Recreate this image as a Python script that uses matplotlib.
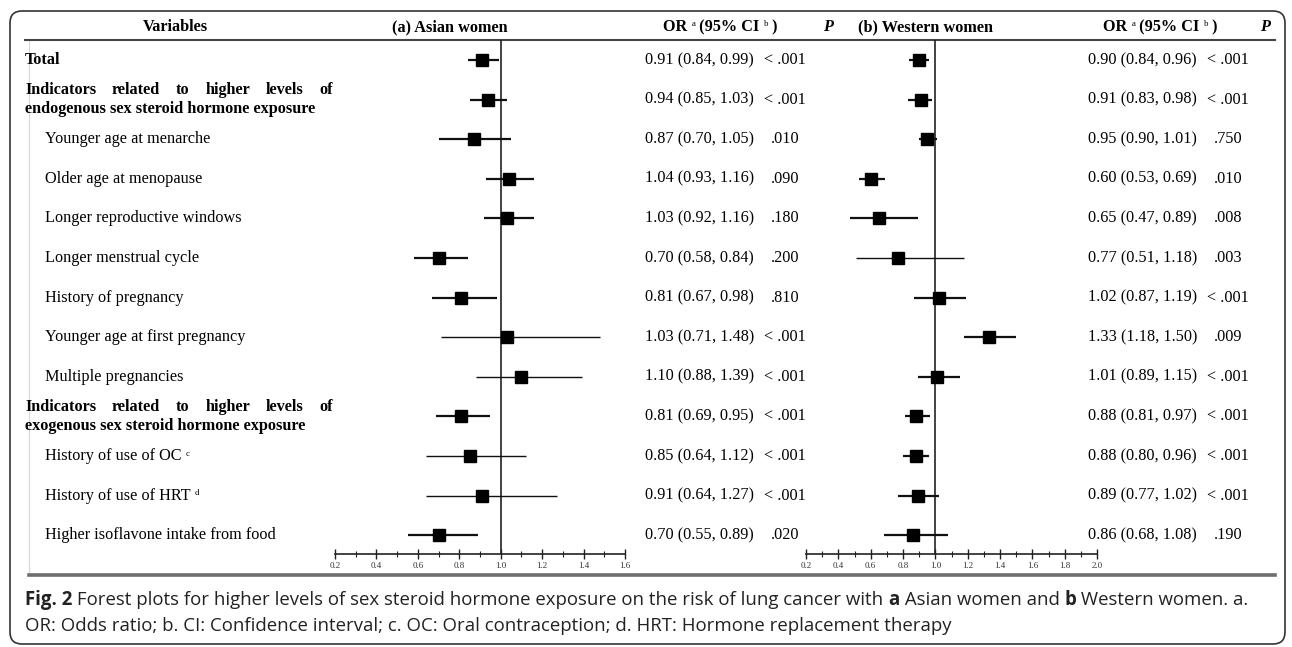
import matplotlib
matplotlib.use("Agg")
import matplotlib.pyplot as plt
from matplotlib.patches import FancyBboxPatch
from matplotlib.ticker import MultipleLocator

plt.rcParams['font.family'] = ['Liberation Serif', 'DejaVu Serif']
plt.rcParams['mathtext.fontset'] = 'custom'
plt.rcParams['mathtext.rm'] = 'Liberation Serif'

# rows of the table
labels = ["Total",
          "Indicators related to higher levels of\nendogenous sex steroid hormone exposure",
          "Younger age at menarche",
          "Older age at menopause",
          "Longer reproductive windows",
          "Longer menstrual cycle",
          "History of pregnancy",
          "Younger age at first pregnancy",
          "Multiple pregnancies",
          "Indicators related to higher levels of\nexogenous sex steroid hormone exposure",
          "History of use of OC",
          "History of use of HRT",
          "Higher isoflavone intake from food"]
label_sup = {10: "c", 11: "d"}
bold_rows = [0, 1, 9]

# (a) Asian women
asian_or = [0.91, 0.94, 0.87, 1.04, 1.03, 0.70, 0.81, 1.03, 1.10, 0.81, 0.85, 0.91, 0.70]
asian_lo = [0.84, 0.85, 0.70, 0.93, 0.92, 0.58, 0.67, 0.71, 0.88, 0.69, 0.64, 0.64, 0.55]
asian_hi = [0.99, 1.03, 1.05, 1.16, 1.16, 0.84, 0.98, 1.48, 1.39, 0.95, 1.12, 1.27, 0.89]
asian_p = ["< .001", "< .001", ".010", ".090", ".180", ".200", ".810",
           "< .001", "< .001", "< .001", "< .001", "< .001", ".020"]

# (b) Western women
west_or = [0.90, 0.91, 0.95, 0.60, 0.65, 0.77, 1.02, 1.33, 1.01, 0.88, 0.88, 0.89, 0.86]
west_lo = [0.84, 0.83, 0.90, 0.53, 0.47, 0.51, 0.87, 1.18, 0.89, 0.81, 0.80, 0.77, 0.68]
west_hi = [0.96, 0.98, 1.01, 0.69, 0.89, 1.18, 1.19, 1.50, 1.15, 0.97, 0.96, 1.02, 1.08]
west_p = ["< .001", "< .001", ".750", ".010", ".008", ".003", "< .001",
          ".009", "< .001", "< .001", "< .001", "< .001", ".190"]

W, H = 1292, 647
fig = plt.figure(figsize=(W / 100, H / 100), dpi=100)
bg = fig.add_axes([0, 0, 1, 1])
bg.set_xlim(0, W)
bg.set_ylim(H, 0)
bg.axis('off')
renderer = fig.canvas.get_renderer()

FS = 11.7
ROW0, STEP = 60, 39.6


def row_y(i):
    return ROW0 + STEP * i


def text_width(t):
    return t.get_window_extent(renderer).width


def draw_runs(x, y, runs, **kw):
    # draw pieces of text one after another on the same line
    for s, props in runs:
        opts = dict(kw)
        opts.update(props)
        dy = opts.pop('dy', 0)
        t = bg.text(x, y + dy, s, va='center', ha='left', **opts)
        x += text_width(t)
    return x


def draw_justified(x0, x1, y, line, **kw):
    words = line.split()
    ts = [bg.text(0, y, w, va='center', ha='left', **kw) for w in words]
    widths = [text_width(t) for t in ts]
    gap = (x1 - x0 - sum(widths)) / (len(words) - 1)
    x = x0
    for t, w in zip(ts, widths):
        t.set_x(x)
        x += w + gap


sup = {'fontsize': FS * 0.55, 'fontweight': 'normal', 'dy': -2.5}

# frame
bg.add_patch(FancyBboxPatch((10, 11), 1275, 633, boxstyle="round,pad=0,rounding_size=12",
                            fc='none', ec='#333333', lw=1.2))
bg.plot([29, 29], [40, 575], color='#d8d8d8', lw=0.8)
bg.plot([25, 1275], [40, 40], color='#444444', lw=1.5)
bg.plot([29, 1275], [575, 575], color='#6e6e6e', lw=2.6)

# header
hy = 27
bg.text(175, hy, "Variables", ha='center', va='center', fontsize=FS, fontweight='bold')
bg.text(450, hy, "(a) Asian women", ha='center', va='center', fontsize=FS, fontweight='bold')
bg.text(925, hy, "(b) Western women", ha='center', va='center', fontsize=FS, fontweight='bold')
for x0, px in [(663, 828), (1103, 1265)]:
    draw_runs(x0, hy, [("OR ", {}), ("a", sup), (" (95% CI ", {}), ("b", sup), (" )", {})],
              fontsize=FS, fontweight='bold')
    bg.text(px, hy, "P", ha='center', va='center', fontsize=FS, fontweight='bold', style='italic')

# row labels and numbers
for i, lab in enumerate(labels):
    y = row_y(i)
    if i in bold_rows:
        lines = lab.split("\n")
        if len(lines) == 2:
            draw_justified(25, 333, y - 9.5, lines[0], fontsize=FS, fontweight='bold')
            bg.text(25, y + 9.5, lines[1], va='center', fontsize=FS, fontweight='bold')
        else:
            bg.text(25, y, lab, va='center', fontsize=FS, fontweight='bold')
    elif i in label_sup:
        draw_runs(45, y, [(lab + " ", {}), (label_sup[i], sup)], fontsize=FS)
    else:
        bg.text(45, y, lab, va='center', fontsize=FS)
    bg.text(645, y, f"{asian_or[i]:.2f} ({asian_lo[i]:.2f}, {asian_hi[i]:.2f})", va='center', fontsize=FS)
    bg.text(785, y, asian_p[i], va='center', ha='center', fontsize=FS)
    bg.text(1088, y, f"{west_or[i]:.2f} ({west_lo[i]:.2f}, {west_hi[i]:.2f})", va='center', fontsize=FS)
    bg.text(1228, y, west_p[i], va='center', ha='center', fontsize=FS)


# forest panels
def forest(x_left, x_right, xmax, ors, los, his):
    top, bottom = 40, 554
    ax = fig.add_axes([x_left / W, 1 - bottom / H, (x_right - x_left) / W, (bottom - top) / H])
    ax.set_facecolor('none')
    n = len(ors)
    ax.set_xlim(0.2, xmax)
    ax.set_ylim((bottom - ROW0) / STEP, (top - ROW0) / STEP)
    for s in ['top', 'left', 'right']:
        ax.spines[s].set_visible(False)
    ax.spines['bottom'].set_color('#222222')
    ax.spines['bottom'].set_linewidth(1.2)
    ax.axvline(1.0, color='#222222', lw=1.2)
    for i in range(n):
        lw = 1.6 if his[i] - los[i] < 0.45 else 1.0
        ax.plot([los[i], his[i]], [i, i], color='#111111', lw=lw, solid_capstyle='butt')
        ax.plot(ors[i], i, marker='s', ms=9, color='black', clip_on=False)
    ax.xaxis.set_minor_locator(MultipleLocator(0.1))
    ticks = [v / 10 for v in range(2, int(round(xmax * 10)) + 1, 2)]
    ax.set_xticks(ticks)
    ax.set_xticklabels([f"{v:.1f}" for v in ticks])
    ax.tick_params(axis='x', which='major', direction='inout', length=7, width=1,
                   labelsize=6.5, pad=2.5, color='#222222', labelcolor='#333333')
    ax.tick_params(axis='x', which='minor', direction='inout', length=4, width=0.8, color='#222222')
    ax.set_yticks([])
    return ax


forest(335, 625, 1.6, asian_or, asian_lo, asian_hi)
forest(806, 1097, 2.0, west_or, west_lo, west_hi)

# caption
cap = {'fontsize': 13.4, 'family': ['Open Sans', 'DejaVu Sans'], 'color': '#222222'}
b = {'fontweight': 'bold'}
draw_runs(25, 600, [("Fig. 2", b),
                    (" Forest plots for higher levels of sex steroid hormone exposure on the risk of lung cancer with ", {}),
                    ("a", b), (" Asian women and ", {}), ("b", b), (" Western women. a.", {})], **cap)
bg.text(25, 626, "OR: Odds ratio; b. CI: Confidence interval; c. OC: Oral contraception; "
        "d. HRT: Hormone replacement therapy", va='center', **cap)

fig.savefig("out.png", dpi=100)
